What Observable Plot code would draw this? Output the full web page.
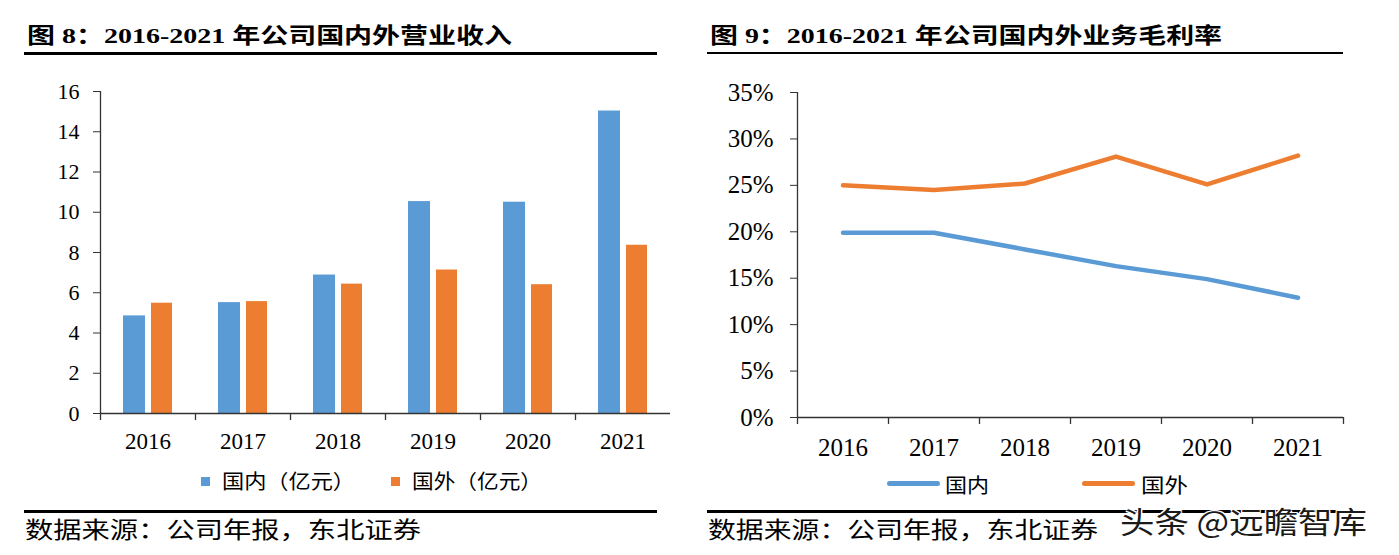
<!DOCTYPE html>
<html><head><meta charset="utf-8">
<script src="https://cdn.jsdelivr.net/npm/d3@7"></script>
<script src="https://cdn.jsdelivr.net/npm/@observablehq/plot@0.6"></script>
<style>
html,body{margin:0;padding:0;background:#fff;}
#root{position:relative;width:1399px;height:555px;overflow:hidden;font-family:"Noto Sans CJK SC",sans-serif;color:#000;}
.t{position:absolute;white-space:nowrap;transform-origin:0 50%;line-height:1;}
.box{position:absolute;}
#leftPlot,#rightPlot{position:absolute;top:0;}
#leftPlot{left:0;}
#rightPlot{left:700px;}
</style></head><body><div id="root"><div id="leftPlot"></div><div id="rightPlot"></div></div>
<script>
// ---- data ----
const years = ["2016", "2017", "2018", "2019", "2020", "2021"];
const revenueDomestic = [4.85, 5.51, 6.88, 10.53, 10.50, 15.03];
const revenueOverseas = [5.48, 5.56, 6.43, 7.13, 6.40, 8.36];
const marginDomestic = [19.9, 19.9, 18.1, 16.3, 14.9, 12.9];
const marginOverseas = [25.0, 24.5, 25.2, 28.1, 25.1, 28.2];
const revenueTicks = [0, 2, 4, 6, 8, 10, 12, 14, 16];
const marginTicks = [0, 5, 10, 15, 20, 25, 30, 35];
const titleLeft = "图 8：2016-2021 年公司国内外营业收入";
const titleRight = "图 9：2016-2021 年公司国内外业务毛利率";
const legendLeft = ["国内（亿元）", "国外（亿元）"];
const legendRight = ["国内", "国外"];
const sourceText = "数据来源：公司年报，东北证券";
const watermark = "头条 @远瞻智库";

const BLUE = "#5B9BD5", ORANGE = "#ED7D31", AXIS = "#333";
const root = document.getElementById("root");

// ---- left chart: revenue bars ----
const revRows = years.map((y, i) => ({year: y, dom: revenueDomestic[i], ovs: revenueOverseas[i]}));
const LW = 700, LML = 100, LMR = 30;
const lbw = (LW - LML - LMR) / years.length;
const leftPlot = Plot.plot({
  width: LW, height: 470, marginLeft: LML, marginRight: LMR, marginTop: 91, marginBottom: 57,
  style: {fontFamily: "'Liberation Serif', serif", fontSize: "22px", color: "#000", background: "transparent", overflow: "visible"},
  x: {type: "band", domain: years, padding: 0, round: false, label: null},
  y: {domain: [0, 16], label: null},
  marks: [
    Plot.barY(revRows, {x: "year", y: "dom", fill: BLUE, insetLeft: 23, insetRight: 50}),
    Plot.barY(revRows, {x: "year", y: "ovs", fill: ORANGE, insetLeft: 51, insetRight: 23}),
    Plot.ruleY([0], {stroke: AXIS, strokeWidth: 1.3}),
    Plot.ruleX(years, {x: d => d, dx: -lbw / 2, y1: -0.35, y2: d => d === years[0] ? 16 : 0, stroke: AXIS, strokeWidth: 1.3}),
    Plot.axisY(revenueTicks, {tickSize: 7, tickPadding: 14, fontSize: 22, stroke: AXIS}),
    Plot.axisX({tickSize: 0, tickPadding: 19, fontSize: 23})
  ]
});
document.getElementById("leftPlot").append(leftPlot);

// ---- right chart: margin lines ----
const marRows = years.map((y, i) => ({year: y, dom: marginDomestic[i], ovs: marginOverseas[i]}));
const RW = 699, RML = 97, RMR = 56;
const rbw = (RW - RML - RMR) / years.length;
const rightPlot = Plot.plot({
  width: RW, height: 470, marginLeft: RML, marginRight: RMR, marginTop: 92, marginBottom: 53,
  style: {fontFamily: "'Liberation Serif', serif", fontSize: "25px", color: "#000", background: "transparent", overflow: "visible"},
  x: {type: "band", domain: years, padding: 0, round: false, label: null},
  y: {domain: [0, 35], label: null},
  marks: [
    Plot.ruleY([0], {stroke: AXIS, strokeWidth: 1.3}),
    Plot.ruleX(years, {x: d => d, dx: -rbw / 2, y1: -0.75, y2: d => d === years[0] ? 35 : 0, stroke: AXIS, strokeWidth: 1.3}),
    Plot.ruleX([years[years.length - 1]], {x: d => d, dx: rbw / 2, y1: -0.75, y2: 0, stroke: AXIS, strokeWidth: 1.3}),
    Plot.line(marRows, {x: "year", y: "dom", stroke: BLUE, strokeWidth: 4.5, strokeLinecap: "round", strokeLinejoin: "round"}),
    Plot.line(marRows, {x: "year", y: "ovs", stroke: ORANGE, strokeWidth: 4.5, strokeLinecap: "round", strokeLinejoin: "round"}),
    Plot.axisY(marginTicks, {tickSize: 7, tickPadding: 17, fontSize: 25, stroke: AXIS, tickFormat: d => d + "%"}),
    Plot.axisX({tickSize: 0, tickPadding: 21, fontSize: 25})
  ]
});
document.getElementById("rightPlot").append(rightPlot);

// ---- html text helpers ----
function placeText(str, x0, x1, cy, size, opts = {}) {
  const el = document.createElement("div");
  el.className = "t";
  el.textContent = str;
  el.style.fontSize = size + "px";
  if (opts.family) el.style.fontFamily = opts.family;
  if (opts.weight) el.style.fontWeight = opts.weight;
  if (opts.color) el.style.color = opts.color;
  if (opts.shadow) el.style.textShadow = opts.shadow;
  root.append(el);
  const w = el.getBoundingClientRect().width, h = el.getBoundingClientRect().height;
  el.style.left = x0 + "px";
  el.style.top = (cy - h / 2) + "px";
  el.style.transform = `scaleX(${(x1 - x0) / w})`;
  return el;
}
function box(x, y, w, h, color, radius) {
  const el = document.createElement("div");
  el.className = "box";
  Object.assign(el.style, {left: x + "px", top: y + "px", width: w + "px", height: h + "px", background: color});
  if (radius) el.style.borderRadius = radius + "px";
  root.append(el);
}

const titleFont = "'Liberation Serif', 'Noto Sans CJK SC', serif";
placeText(titleLeft, 27, 512, 36, 22, {family: titleFont, weight: "bold"});
placeText(titleRight, 710, 1222, 36, 22, {family: titleFont, weight: "bold"});
box(24, 52, 633, 2.5, "#000");
box(707, 52, 636, 2, "#000");

// legends
box(201, 477, 9, 9, BLUE);
placeText(legendLeft[0], 222, 355, 481, 20);
box(391, 477, 9, 9, ORANGE);
placeText(legendLeft[1], 412, 542, 481, 20);
box(887, 481, 53, 5, BLUE, 2.5);
placeText(legendRight[0], 945, 989, 485, 20);
box(1082, 481, 53, 5, ORANGE, 2.5);
placeText(legendRight[1], 1141, 1188, 485, 20);

// source lines
box(24, 510, 633, 2.5, "#000");
box(707, 510, 636, 2.5, "#000");
placeText(sourceText, 25, 421, 528, 23);
placeText(sourceText, 708, 1098, 528, 23);

// watermark
placeText(watermark, 1120, 1367, 520, 30, {color: "#1a1a1a", shadow: "1px 1px 0 #fff, -1px -1px 0 #fff, 1px -1px 0 #fff, -1px 1px 0 #fff"});
</script></body></html>
